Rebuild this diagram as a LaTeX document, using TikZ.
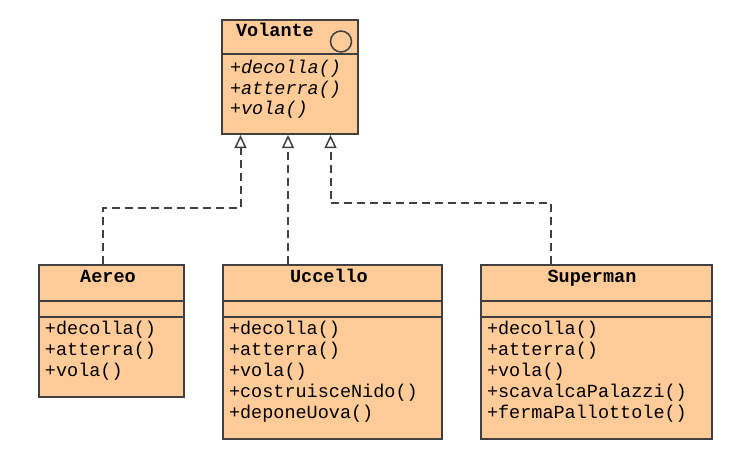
\documentclass[tikz,border=0pt]{standalone}
\usepackage{fontspec}
\newfontfamily\umlfont{Liberation Mono}
\usetikzlibrary{arrows.meta,calc}
\definecolor{classfill}{HTML}{FFCC99}
\definecolor{classline}{HTML}{404040}
\begin{document}
\begin{tikzpicture}[
x=1pt, y=-1pt,
line width=2pt,
every node/.style={inner sep=0pt, font=\umlfont\fontsize{18.5}{21}\selectfont},
]
\useasboundingbox (0,0) rectangle (745,453);

\tikzset{
	cls/.style={draw=classline, fill=classfill, anchor=north west},
	title/.style={anchor=base, font=\umlfont\bfseries\fontsize{18.5}{21}\selectfont},
	meth/.style={anchor=base west},
	abst/.style={anchor=base west, font=\umlfont\itshape\fontsize{18.5}{21}\selectfont},
	sep/.style={classline},
	impl/.style={classline, dash pattern=on 8pt off 5pt,
		-{Triangle[open, length=13pt, width=12pt, line width=1.5pt]}},
}

% classi
\node[cls, minimum width=136pt, minimum height=114pt] (volante) at (221,19) {};
\node[cls, minimum width=145pt, minimum height=132pt] (aereo) at (38,264) {};
\node[cls, minimum width=219pt, minimum height=174pt] (uccello) at (222,264) {};
\node[cls, minimum width=231pt, minimum height=174pt] (superman) at (480,264) {};

\draw[sep] ([yshift=-35pt]volante.north west) -- ([yshift=-35pt]volante.north east);
\foreach \c in {aereo,uccello,superman}{
	\draw[sep] ([yshift=-36.5pt]\c.north west) -- ([yshift=-36.5pt]\c.north east);
	\draw[sep] ([yshift=-52.5pt]\c.north west) -- ([yshift=-52.5pt]\c.north east);
}

\node[title] (volante-t) at (275,36) {Volante};
\node[draw=classline, circle, minimum size=21pt, line width=1.5pt] (volante-i) at (341,41.5) {};
\node[title] (aereo-t) at (108,282) {Aereo};
\node[title] (uccello-t) at (329,282) {Uccello};
\node[title] (superman-t) at (592,282) {Superman};

\foreach \m [count=\i] in {decolla,atterra,vola}
	\node[abst] (volante-m\i) at (229,53+20.5*\i) {+\m()};
\foreach \m [count=\i] in {decolla,atterra,vola}
	\node[meth] (aereo-m\i) at (44,313+21*\i) {+\m()};
\foreach \m [count=\i] in {decolla,atterra,vola,costruisceNido,deponeUova}
	\node[meth] (uccello-m\i) at (228,313+21*\i) {+\m()};
\foreach \m [count=\i] in {decolla,atterra,vola,scavalcaPalazzi,fermaPallottole}
	\node[meth] (superman-m\i) at (486,313+21*\i) {+\m()};

% realizzazioni
\coordinate (v-a) at ([xshift=19.5pt]volante.south west);
\coordinate (v-u) at ([xshift=67pt]volante.south west);
\coordinate (v-s) at ([xshift=109.5pt]volante.south west);

\draw[impl] ([xshift=65pt]aereo.north west) |- ([yshift=-72.5pt]v-a) -- (v-a);
\draw[impl] (v-u |- uccello.north) -- (v-u);
\draw[impl] ([xshift=71pt]superman.north west) |- ([yshift=-68pt]v-s) -- (v-s);

\end{tikzpicture}
\end{document}
